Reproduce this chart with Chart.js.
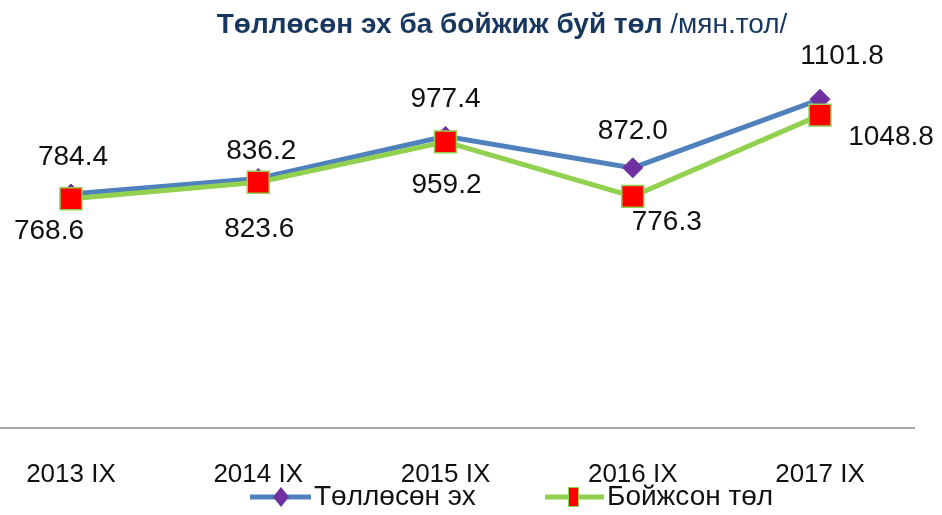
<!DOCTYPE html>
<html>
<head>
<meta charset="utf-8">
<script src="https://cdn.jsdelivr.net/npm/chart.js@4/dist/chart.umd.min.js"></script>
<style>
  html, body { margin: 0; padding: 0; background: #ffffff; }
  #wrap { width: 942px; height: 515px; position: relative; }
</style>
</head>
<body>
<div id="wrap"><canvas id="c" width="942" height="515"></canvas></div>
<script>
// ---- data ----
const categories = ['2013 IX', '2014 IX', '2015 IX', '2016 IX', '2017 IX'];
const motherValues = [784.4, 836.2, 977.4, 872.0, 1101.8];
const youngValues = [768.6, 823.6, 959.2, 776.3, 1048.8];
const seriesNames = ['Төллөсөн эх', 'Бойжсон төл'];
const titleMain = 'Төллөсөн эх ба бойжиж буй төл';
const titleUnit = ' /мян.тол/';

// ---- styling / layout ----
const BLUE = '#4F81BD', PURPLE = '#7030A0', GREEN = '#92D050', RED = '#FF0000';
const FONT = '"Liberation Sans", Arial, sans-serif';
// label offsets relative to the point (layout only)
const motherLabelOffsets = [[2, -37], [3, -27], [0, -37], [0, -37], [22, -43]];
const youngLabelOffsets = [[-22, 33], [1, 47], [1, 43], [34, 26], [71, 22]];

const toXY = vals => vals.map((v, i) => ({ x: i, y: v }));

const titlePlugin = {
  id: 'titlePlugin',
  afterDraw(chart) {
    const ctx = chart.ctx;
    ctx.save();
    ctx.textBaseline = 'middle';
    ctx.fillStyle = '#17375E';
    ctx.font = 'bold 28px ' + FONT;
    const w1 = ctx.measureText(titleMain).width;
    ctx.font = '28px ' + FONT;
    const w2 = ctx.measureText(titleUnit).width;
    const cx = 502;
    let x = cx - (w1 + w2) / 2;
    ctx.textAlign = 'left';
    ctx.font = 'bold 28px ' + FONT;
    ctx.fillText(titleMain, x, 25);
    ctx.font = '28px ' + FONT;
    ctx.fillText(titleUnit, x + w1, 25);
    ctx.restore();
  }
};

const labelPlugin = {
  id: 'labelPlugin',
  afterDatasetsDraw(chart) {
    const ctx = chart.ctx;
    ctx.save();
    ctx.font = '28px ' + FONT;
    ctx.fillStyle = '#111111';
    ctx.textAlign = 'center';
    ctx.textBaseline = 'middle';
    const sets = [[0, motherValues, motherLabelOffsets], [1, youngValues, youngLabelOffsets]];
    sets.forEach(([di, vals, offs]) => {
      const meta = chart.getDatasetMeta(di);
      meta.data.forEach((pt, j) => {
        ctx.fillText(vals[j].toFixed(1), pt.x + offs[j][0], pt.y + offs[j][1]);
      });
    });
    ctx.restore();
  }
};

const legendPlugin = {
  id: 'legendPlugin',
  afterDraw(chart) {
    const ctx = chart.ctx;
    const y = 497;
    ctx.save();
    // item 1
    ctx.strokeStyle = BLUE; ctx.lineWidth = 5;
    ctx.beginPath(); ctx.moveTo(250, y); ctx.lineTo(311, y); ctx.stroke();
    ctx.fillStyle = PURPLE;
    ctx.beginPath(); ctx.moveTo(281, y - 10); ctx.lineTo(289, y); ctx.lineTo(281, y + 10); ctx.lineTo(273, y); ctx.closePath(); ctx.fill();
    // item 2
    ctx.strokeStyle = GREEN; ctx.lineWidth = 5;
    ctx.beginPath(); ctx.moveTo(545, y); ctx.lineTo(604, y); ctx.stroke();
    ctx.fillStyle = RED; ctx.fillRect(568, y - 10, 11, 20);
    ctx.strokeStyle = GREEN; ctx.lineWidth = 1; ctx.strokeRect(568.5, y - 9.5, 10, 19);
    // text
    ctx.fillStyle = '#111111';
    ctx.font = '28px ' + FONT;
    ctx.textBaseline = 'middle';
    ctx.textAlign = 'left';
    ctx.fillText(seriesNames[0], 314, y);
    ctx.fillText(seriesNames[1], 607, y);
    ctx.restore();
  }
};

new Chart(document.getElementById('c'), {
  type: 'line',
  data: {
    datasets: [
      {
        label: seriesNames[0],
        data: toXY(motherValues),
        borderColor: BLUE,
        borderWidth: 5,
        backgroundColor: PURPLE,
        pointStyle: 'rectRot',
        pointRadius: 10,
        pointBackgroundColor: PURPLE,
        pointBorderColor: PURPLE,
        pointBorderWidth: 1,
        tension: 0,
        order: 2
      },
      {
        label: seriesNames[1],
        data: toXY(youngValues),
        borderColor: GREEN,
        borderWidth: 5,
        backgroundColor: RED,
        pointStyle: 'rect',
        pointRadius: 15.5,
        pointBackgroundColor: RED,
        pointBorderColor: GREEN,
        pointBorderWidth: 1.5,
        tension: 0,
        order: 1
      }
    ]
  },
  options: {
    responsive: false,
    animation: false,
    layout: { autoPadding: false, padding: { top: 70, left: 0, right: 28, bottom: 27 } },
    plugins: {
      legend: { display: false },
      tooltip: { enabled: false },
      title: { display: false }
    },
    scales: {
      x: {
        type: 'linear',
        min: -0.379,
        max: 4.502,
        afterFit(scale) { scale.height = 60; scale.paddingLeft = 0; scale.paddingRight = 0; },
        grid: { display: false, drawTicks: false },
        border: { display: true, color: '#A6A6A6', width: 2 },
        ticks: {
          stepSize: 1,
          includeBounds: false,
          autoSkip: false,
          maxRotation: 0,
          padding: 31,
          color: '#111111',
          font: { family: FONT, size: 26 },
          callback: v => (Number.isInteger(v) && categories[v] !== undefined) ? categories[v] : ''
        }
      },
      y: {
        display: false,
        min: 0,
        max: 1200
      }
    }
  },
  plugins: [titlePlugin, labelPlugin, legendPlugin]
});
</script>
</body>
</html>
